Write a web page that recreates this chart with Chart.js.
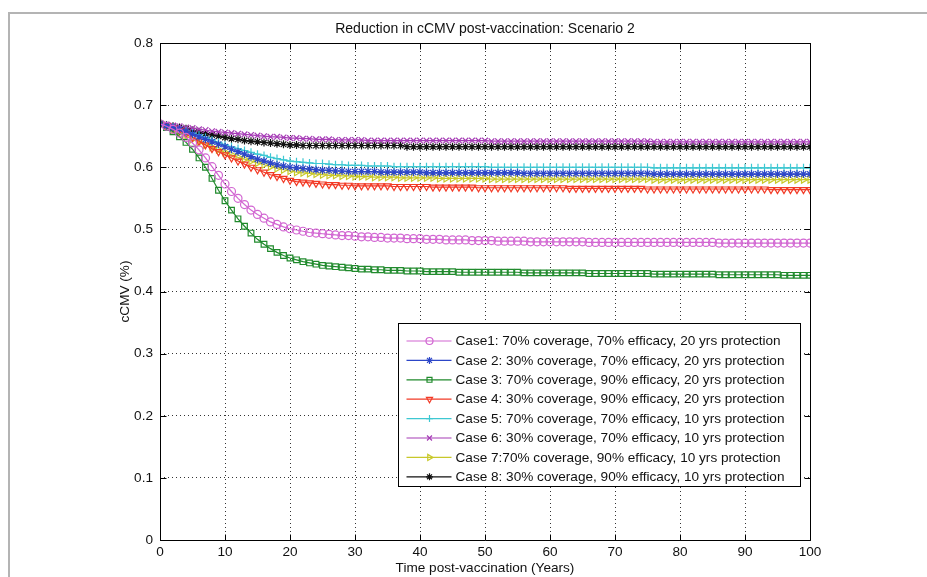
<!DOCTYPE html>
<html><head><meta charset="utf-8">
<script src="https://cdn.jsdelivr.net/npm/chart.js@4/dist/chart.umd.min.js"></script>
<style>
html,body{margin:0;padding:0;background:#fff;}
#wrap{position:relative;width:927px;height:577px;overflow:hidden;}
#frame{position:absolute;left:8px;top:12px;width:940px;height:600px;border-top:2px solid #b4b4b4;border-left:2px solid #b4b4b4;}
canvas{position:absolute;left:0;top:0;}
</style></head><body>
<div id="wrap"><div id="frame"></div><canvas id="c" width="927" height="577"></canvas></div>
<script>
const chartTitle = 'Reduction in cCMV post-vaccination: Scenario 2';
const xTitle = 'Time post-vaccination (Years)';
const yTitle = 'cCMV (%)';
const xTicks = [0,10,20,30,40,50,60,70,80,90,100];
const yTicks = [0,0.1,0.2,0.3,0.4,0.5,0.6,0.7,0.8];
const years = [0,1,2,3,4,5,6,7,8,9,10,11,12,13,14,15,16,17,18,19,20,21,22,23,24,25,26,27,28,29,30,31,32,33,34,35,36,37,38,39,40,41,42,43,44,45,46,47,48,49,50,51,52,53,54,55,56,57,58,59,60,61,62,63,64,65,66,67,68,69,70,71,72,73,74,75,76,77,78,79,80,81,82,83,84,85,86,87,88,89,90,91,92,93,94,95,96,97,98,99,100];
const seriesLabels = [
 'Case1: 70% coverage, 70% efficacy, 20 yrs protection',
 'Case 2: 30% coverage, 70% efficacy, 20 yrs protection',
 'Case 3: 70% coverage, 90% efficacy, 20 yrs protection',
 'Case 4: 30% coverage, 90% efficacy, 20 yrs protection',
 'Case 5: 70% coverage, 70% efficacy, 10 yrs protection',
 'Case 6: 30% coverage, 70% efficacy, 10 yrs protection',
 'Case 7:70% coverage, 90% efficacy, 10 yrs protection',
 'Case 8: 30% coverage, 90% efficacy, 10 yrs protection'
];
const case1 = [0.670,0.666,0.661,0.655,0.648,0.639,0.628,0.615,0.601,0.587,0.573,
0.561,0.550,0.540,0.531,0.524,0.518,0.512,0.508,0.504,0.501,
0.499,0.497,0.495,0.494,0.493,0.492,0.491,0.490,0.490,0.489,
0.488,0.488,0.487,0.487,0.486,0.486,0.486,0.485,0.485,0.485,
0.484,0.484,0.484,0.483,0.483,0.483,0.483,0.482,0.482,0.482,
0.482,0.481,0.481,0.481,0.481,0.481,0.480,0.480,0.480,0.480,
0.480,0.480,0.480,0.480,0.480,0.479,0.479,0.479,0.479,0.479,
0.479,0.479,0.479,0.479,0.479,0.479,0.479,0.479,0.479,0.479,
0.479,0.479,0.479,0.479,0.479,0.478,0.478,0.478,0.478,0.478,
0.478,0.478,0.478,0.478,0.478,0.478,0.478,0.478,0.478,0.478];
const case2 = [0.670,0.667,0.664,0.661,0.657,0.653,0.649,0.645,0.641,0.637,0.633,
0.629,0.625,0.621,0.617,0.613,0.610,0.607,0.604,0.602,0.600,
0.599,0.598,0.597,0.596,0.595,0.595,0.594,0.594,0.593,0.593,
0.593,0.593,0.593,0.592,0.592,0.592,0.592,0.592,0.592,0.592,
0.591,0.591,0.591,0.591,0.591,0.591,0.591,0.591,0.591,0.591,
0.591,0.591,0.591,0.591,0.591,0.590,0.590,0.590,0.590,0.590,
0.590,0.590,0.590,0.590,0.590,0.590,0.590,0.590,0.590,0.590,
0.590,0.590,0.590,0.590,0.590,0.589,0.589,0.589,0.589,0.589,
0.589,0.589,0.589,0.589,0.589,0.589,0.589,0.589,0.589,0.589,
0.589,0.589,0.589,0.589,0.589,0.589,0.589,0.589,0.589,0.589];
const case3 = [0.670,0.664,0.657,0.649,0.640,0.629,0.615,0.600,0.582,0.563,0.546,
0.531,0.517,0.505,0.494,0.484,0.476,0.469,0.463,0.458,0.454,
0.451,0.448,0.446,0.444,0.442,0.441,0.440,0.439,0.438,0.437,
0.436,0.436,0.435,0.435,0.434,0.434,0.434,0.433,0.433,0.433,
0.432,0.432,0.432,0.432,0.432,0.431,0.431,0.431,0.431,0.431,
0.431,0.431,0.431,0.431,0.431,0.430,0.430,0.430,0.430,0.430,
0.430,0.430,0.430,0.430,0.430,0.429,0.429,0.429,0.429,0.429,
0.429,0.429,0.429,0.429,0.429,0.428,0.428,0.428,0.428,0.428,
0.428,0.428,0.428,0.428,0.428,0.427,0.427,0.427,0.427,0.427,
0.427,0.427,0.427,0.427,0.427,0.426,0.426,0.426,0.426,0.426];
const case4 = [0.670,0.667,0.663,0.659,0.654,0.648,0.642,0.636,0.630,0.625,0.620,
0.615,0.610,0.605,0.600,0.596,0.592,0.588,0.585,0.582,0.579,
0.577,0.576,0.575,0.574,0.573,0.572,0.572,0.571,0.571,0.570,
0.570,0.570,0.570,0.570,0.570,0.569,0.569,0.569,0.569,0.569,
0.569,0.568,0.568,0.568,0.568,0.568,0.568,0.568,0.567,0.567,
0.567,0.567,0.567,0.567,0.567,0.567,0.567,0.567,0.567,0.567,
0.567,0.567,0.566,0.566,0.566,0.566,0.566,0.566,0.566,0.566,
0.566,0.566,0.566,0.566,0.565,0.565,0.565,0.565,0.565,0.565,
0.565,0.565,0.565,0.565,0.565,0.565,0.565,0.565,0.565,0.565,
0.565,0.565,0.565,0.564,0.564,0.564,0.564,0.564,0.564,0.564];
const case5 = [0.670,0.667,0.664,0.661,0.658,0.655,0.652,0.648,0.644,0.640,0.636,
0.633,0.630,0.627,0.624,0.621,0.619,0.616,0.614,0.612,0.610,
0.609,0.608,0.607,0.606,0.606,0.605,0.604,0.604,0.603,0.603,
0.603,0.602,0.602,0.602,0.602,0.601,0.601,0.601,0.601,0.601,
0.601,0.601,0.601,0.601,0.601,0.601,0.601,0.601,0.601,0.601,
0.600,0.600,0.600,0.600,0.600,0.600,0.600,0.600,0.600,0.600,
0.600,0.600,0.600,0.600,0.600,0.600,0.600,0.600,0.600,0.600,
0.600,0.600,0.600,0.600,0.600,0.599,0.599,0.599,0.599,0.599,
0.599,0.599,0.599,0.599,0.599,0.599,0.599,0.599,0.599,0.599,
0.599,0.599,0.599,0.599,0.599,0.599,0.599,0.599,0.599,0.599];
const case6 = [0.670,0.669,0.667,0.666,0.664,0.663,0.661,0.660,0.658,0.657,0.656,
0.655,0.654,0.653,0.652,0.651,0.650,0.649,0.649,0.648,0.647,
0.647,0.646,0.646,0.645,0.645,0.645,0.644,0.644,0.644,0.644,
0.644,0.643,0.643,0.643,0.643,0.643,0.643,0.643,0.643,0.643,
0.643,0.643,0.643,0.643,0.643,0.643,0.643,0.643,0.643,0.643,
0.642,0.642,0.642,0.642,0.642,0.642,0.642,0.642,0.642,0.642,
0.642,0.642,0.642,0.642,0.642,0.642,0.642,0.642,0.642,0.642,
0.642,0.642,0.642,0.642,0.642,0.641,0.641,0.641,0.641,0.641,
0.641,0.641,0.641,0.641,0.641,0.641,0.641,0.641,0.641,0.641,
0.641,0.641,0.641,0.641,0.641,0.641,0.641,0.641,0.641,0.641];
const case7 = [0.670,0.665,0.660,0.655,0.650,0.645,0.640,0.636,0.632,0.628,0.624,
0.620,0.616,0.613,0.610,0.607,0.604,0.601,0.598,0.596,0.594,
0.592,0.591,0.590,0.589,0.588,0.587,0.587,0.586,0.586,0.585,
0.585,0.585,0.584,0.584,0.584,0.584,0.583,0.583,0.583,0.583,
0.583,0.583,0.582,0.582,0.582,0.582,0.582,0.582,0.582,0.582,
0.581,0.581,0.581,0.581,0.581,0.581,0.581,0.581,0.581,0.581,
0.581,0.581,0.581,0.581,0.581,0.581,0.581,0.581,0.581,0.581,
0.581,0.581,0.581,0.581,0.581,0.580,0.580,0.580,0.580,0.580,
0.580,0.580,0.580,0.580,0.580,0.580,0.580,0.580,0.580,0.580,
0.580,0.580,0.580,0.580,0.580,0.580,0.580,0.580,0.580,0.580];
const case8 = [0.670,0.668,0.666,0.664,0.662,0.659,0.657,0.654,0.652,0.650,0.648,
0.646,0.645,0.643,0.642,0.641,0.640,0.639,0.638,0.637,0.636,
0.636,0.635,0.635,0.635,0.635,0.635,0.635,0.635,0.635,0.635,
0.635,0.635,0.635,0.635,0.635,0.635,0.635,0.633,0.633,0.633,
0.633,0.633,0.633,0.633,0.633,0.633,0.633,0.633,0.633,0.633,
0.633,0.633,0.633,0.633,0.633,0.633,0.633,0.633,0.633,0.633,
0.633,0.633,0.633,0.633,0.633,0.633,0.633,0.633,0.633,0.633,
0.633,0.633,0.633,0.633,0.633,0.633,0.633,0.633,0.633,0.633,
0.633,0.633,0.633,0.633,0.633,0.633,0.633,0.633,0.633,0.633,
0.633,0.633,0.633,0.633,0.633,0.633,0.633,0.633,0.633,0.633];

const allValues = [case1, case2, case3, case4, case5, case6, case7, case8];
const colors = ['#d266d2','#2c46c8','#208a2c','#f23a26','#3ec8d2','#a63cb6','#c8c82a','#111111'];
const styles = [
 {s:'circle', r:0}, {s:'star', r:0}, {s:'rect', r:0}, {s:'triangle', r:180},
 {s:'cross', r:0}, {s:'crossRot', r:0}, {s:'triangle', r:90}, {s:'star', r:0}
];
const FONT = '"Liberation Sans", Arial, Helvetica, sans-serif';

const datasets = allValues.map((vals, i) => ({
  label: seriesLabels[i],
  data: years.map((x, j) => ({x: x, y: vals[j]})),
  borderColor: colors[i],
  backgroundColor: 'rgba(0,0,0,0)',
  pointBorderColor: colors[i],
  pointBackgroundColor: 'rgba(0,0,0,0)',
  pointStyle: styles[i].s,
  pointRotation: styles[i].r,
  pointRadius: 4,
  pointBorderWidth: 1.2,
  borderWidth: 1.2,
  tension: 0,
  fill: false
}));

const matlabPlugin = {
  id: 'matlabPlugin',
  afterDatasetsDraw(chart) {
    const ctx = chart.ctx, a = chart.chartArea;
    const xs = chart.scales.x, ys = chart.scales.y;
    ctx.save();
    ctx.strokeStyle = '#000';
    ctx.lineWidth = 1;
    ctx.beginPath();
    const L = Math.round(a.left) + 0.5, R = Math.round(a.right) + 0.5;
    const T = Math.round(a.top) + 0.5, B = Math.round(a.bottom) + 0.5;
    ctx.rect(L, T, R - L, B - T);
    xTicks.forEach(v => {
      const px = Math.round(xs.getPixelForValue(v)) + 0.5;
      ctx.moveTo(px, B); ctx.lineTo(px, B - 6);
      ctx.moveTo(px, T); ctx.lineTo(px, T + 6);
    });
    yTicks.forEach(v => {
      const py = Math.round(ys.getPixelForValue(v)) + 0.5;
      ctx.moveTo(L, py); ctx.lineTo(L + 6, py);
      ctx.moveTo(R, py); ctx.lineTo(R - 6, py);
    });
    ctx.stroke();
    ctx.restore();
  },
  afterDraw(chart) {
    const ctx = chart.ctx, a = chart.chartArea;
    const boxW = 402, rowH = 19.4, boxH = 163;
    const x0 = a.right - 10 - boxW + 0.5;
    const y0 = a.bottom - 54 - boxH + 0.5;
    ctx.save();
    ctx.fillStyle = '#fff';
    ctx.fillRect(x0, y0, boxW, boxH);
    ctx.strokeStyle = '#000';
    ctx.lineWidth = 1;
    ctx.strokeRect(x0, y0, boxW, boxH);
    ctx.font = '13.6px ' + FONT;
    ctx.textBaseline = 'middle';
    chart.data.datasets.forEach((ds, i) => {
      const cy = y0 + 17.5 + i * rowH;
      ctx.strokeStyle = ds.borderColor;
      ctx.lineWidth = 1.2;
      ctx.beginPath();
      ctx.moveTo(x0 + 8, cy); ctx.lineTo(x0 + 53, cy);
      ctx.stroke();
      ctx.fillStyle = 'rgba(0,0,0,0)';
      Chart.helpers.drawPoint(ctx, {pointStyle: ds.pointStyle, rotation: ds.pointRotation, radius: 3.5, borderWidth: 1.2}, x0 + 31, cy);
      ctx.fillStyle = '#111';
      ctx.fillText(ds.label, x0 + 57, cy + 0.5);
    });
    ctx.restore();
  }
};

new Chart(document.getElementById('c'), {
  type: 'line',
  data: { datasets: datasets },
  plugins: [matlabPlugin],
  options: {
    responsive: false,
    animation: false,
    layout: { padding: { left: 0, right: 117, top: 0, bottom: 0 } },
    plugins: {
      legend: { display: false },
      tooltip: { enabled: false },
      title: {
        display: true, text: chartTitle, fullSize: false, color: '#111',
        font: { family: FONT, size: 14, weight: 'normal', lineHeight: 1.2 },
        padding: { top: 21, bottom: 5.2 }
      }
    },
    scales: {
      x: {
        type: 'linear', min: 0, max: 100,
        afterBuildTicks: s => { s.ticks = xTicks.map(v => ({value: v})); },
        afterFit: s => { s.height = 37; },
        ticks: { color: '#111', font: { family: FONT, size: 13.6 }, padding: 4, maxRotation: 0, autoSkip: false },
        grid: { color: 'rgba(0,0,0,0.8)', drawTicks: false, lineWidth: 1 },
        border: { display: false, dash: [1, 3] },
        title: { display: true, text: xTitle, color: '#111', font: { family: FONT, size: 13.6 }, padding: { top: 0, bottom: 1 } }
      },
      y: {
        type: 'linear', min: 0, max: 0.8,
        afterBuildTicks: s => { s.ticks = yTicks.map(v => ({value: v})); },
        afterFit: s => { s.width = 160; },
        ticks: { color: '#111', font: { family: FONT, size: 13.6 }, padding: 7, autoSkip: false },
        grid: { color: 'rgba(0,0,0,0.8)', drawTicks: false, lineWidth: 1 },
        border: { display: false, dash: [1, 3] },
        title: { display: true, text: yTitle, color: '#111', font: { family: FONT, size: 13.6 }, padding: { top: 117, bottom: 0 } }
      }
    }
  }
});
</script>
</body></html>
